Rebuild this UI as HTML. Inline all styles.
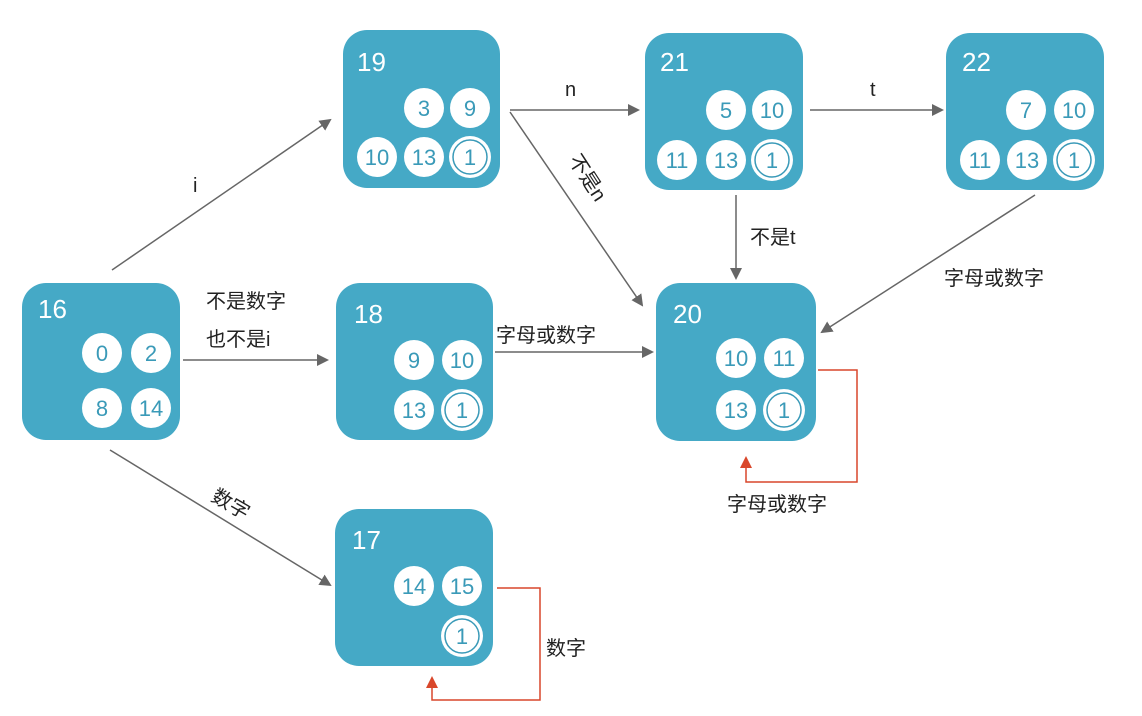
<!DOCTYPE html>
<html><head><meta charset="utf-8"><style>
body{margin:0;background:#fff;}
svg text{font-family:"Liberation Sans","Noto Sans CJK SC",sans-serif;}
.n{fill:#fff;font-size:26px;}
.c{fill:#3a9ab8;font-size:22px;text-anchor:middle;}
.l{fill:#222;font-size:20px;}
</style></head><body>
<svg width="1142" height="711" viewBox="0 0 1142 711" xmlns="http://www.w3.org/2000/svg">
<defs>
<marker id="a" markerWidth="12" markerHeight="12" refX="10" refY="6" orient="auto" markerUnits="userSpaceOnUse"><path d="M0,0 L12,6 L0,12 Z" fill="#666"/></marker>
</defs>
<g fill="#45a9c6">
<rect x="22" y="283" width="158" height="157" rx="24"/>
<rect x="343" y="30" width="157" height="158" rx="24"/>
<rect x="645" y="33" width="158" height="157" rx="24"/>
<rect x="946" y="33" width="158" height="157" rx="24"/>
<rect x="336" y="283" width="157" height="157" rx="24"/>
<rect x="656" y="283" width="160" height="158" rx="24"/>
<rect x="335" y="509" width="158" height="157" rx="24"/>
</g>
<g class="n">
<text x="38" y="318">16</text><text x="357" y="71">19</text><text x="660" y="71">21</text>
<text x="962" y="71">22</text><text x="354" y="323">18</text><text x="673" y="323">20</text><text x="352" y="549">17</text>
</g>
<g fill="#fff">
<circle cx="102" cy="353" r="20"/><circle cx="151" cy="353" r="20"/><circle cx="102" cy="408" r="20"/><circle cx="151" cy="408" r="20"/>
<circle cx="424" cy="108" r="20"/><circle cx="470" cy="108" r="20"/><circle cx="377" cy="157" r="20"/><circle cx="424" cy="157" r="20"/><circle cx="470" cy="157" r="21"/>
<circle cx="726" cy="110" r="20"/><circle cx="772" cy="110" r="20"/><circle cx="677" cy="160" r="20"/><circle cx="726" cy="160" r="20"/><circle cx="772" cy="160" r="21"/>
<circle cx="1026" cy="110" r="20"/><circle cx="1074" cy="110" r="20"/><circle cx="980" cy="160" r="20"/><circle cx="1027" cy="160" r="20"/><circle cx="1074" cy="160" r="21"/>
<circle cx="414" cy="360" r="20"/><circle cx="462" cy="360" r="20"/><circle cx="414" cy="410" r="20"/><circle cx="462" cy="410" r="21"/>
<circle cx="736" cy="358" r="20"/><circle cx="784" cy="358" r="20"/><circle cx="736" cy="410" r="20"/><circle cx="784" cy="410" r="21"/>
<circle cx="414" cy="586" r="20"/><circle cx="462" cy="586" r="20"/><circle cx="462" cy="636" r="21"/>
</g>
<g fill="none" stroke="#3a9ab8" stroke-width="1.5">
<circle cx="470" cy="157" r="17"/><circle cx="772" cy="160" r="17"/><circle cx="1074" cy="160" r="17"/>
<circle cx="462" cy="410" r="17"/><circle cx="784" cy="410" r="17"/><circle cx="462" cy="636" r="17"/>
</g>
<g class="c">
<text x="102" y="361">0</text><text x="151" y="361">2</text><text x="102" y="416">8</text><text x="151" y="416">14</text>
<text x="424" y="116">3</text><text x="470" y="116">9</text><text x="377" y="165">10</text><text x="424" y="165">13</text><text x="470" y="165">1</text>
<text x="726" y="118">5</text><text x="772" y="118">10</text><text x="677" y="168">11</text><text x="726" y="168">13</text><text x="772" y="168">1</text>
<text x="1026" y="118">7</text><text x="1074" y="118">10</text><text x="980" y="168">11</text><text x="1027" y="168">13</text><text x="1074" y="168">1</text>
<text x="414" y="368">9</text><text x="462" y="368">10</text><text x="414" y="418">13</text><text x="462" y="418">1</text>
<text x="736" y="366">10</text><text x="784" y="366">11</text><text x="736" y="418">13</text><text x="784" y="418">1</text>
<text x="414" y="594">14</text><text x="462" y="594">15</text><text x="462" y="644">1</text>
</g>
<g stroke="#666" stroke-width="1.5" fill="none" marker-end="url(#a)">
<line x1="112" y1="270" x2="330" y2="120"/>
<line x1="183" y1="360" x2="327" y2="360"/>
<line x1="110" y1="450" x2="330" y2="585"/>
<line x1="510" y1="110" x2="638" y2="110"/>
<line x1="810" y1="110" x2="942" y2="110"/>
<line x1="510" y1="112" x2="642" y2="305"/>
<line x1="736" y1="195" x2="736" y2="278"/>
<line x1="1035" y1="195" x2="822" y2="332"/>
<line x1="495" y1="352" x2="652" y2="352"/>
</g>
<g stroke="#d9472b" stroke-width="1.5" fill="none">
<polyline points="818,370 857,370 857,482 746,482 746,466"/>
<polyline points="497,588 540,588 540,700 432,700 432,686"/>
</g>
<path d="M740,468 L746,456 L752,468 Z" fill="#d9472b"/>
<path d="M426,688 L432,676 L438,688 Z" fill="#d9472b"/>
<g class="l">
<text x="193" y="192">i</text>
<text x="206" y="308">不是数字</text>
<text x="206" y="346">也不是i</text>
<text x="210" y="500" transform="rotate(30 210 500)">数字</text>
<text x="565" y="96">n</text>
<text x="870" y="96">t</text>
<text x="568" y="160" transform="rotate(57 568 160)">不是n</text>
<text x="750" y="244">不是t</text>
<text x="944" y="285">字母或数字</text>
<text x="496" y="342">字母或数字</text>
<text x="727" y="511">字母或数字</text>
<text x="546" y="655">数字</text>
</g>
</svg>
</body></html>
